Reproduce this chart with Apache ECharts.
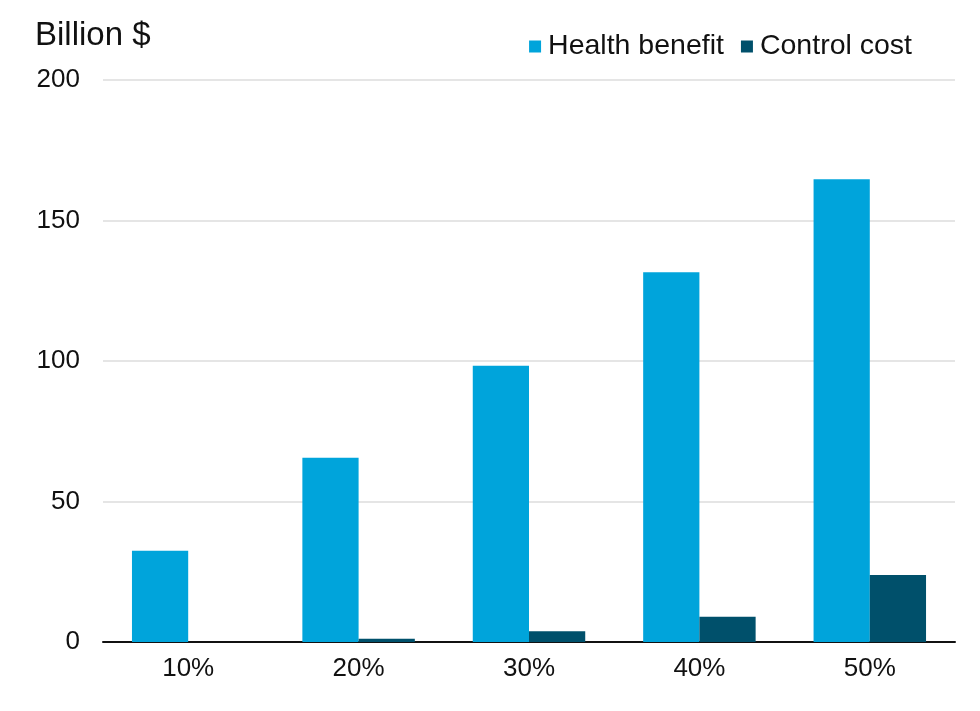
<!DOCTYPE html>
<html>
<head>
<meta charset="utf-8">
<script src="https://cdn.jsdelivr.net/npm/echarts@6/dist/echarts.min.js"></script>
<style>
html,body{margin:0;padding:0;background:#fff;}
#c{width:980px;height:711px;}
</style>
</head>
<body>
<div id="c"></div>
<script>
const categories = ['10%', '20%', '30%', '40%', '50%'];
const healthBenefit = [32.5, 65.6, 98.3, 131.6, 164.7];
const controlCost = [0, 1.2, 3.8, 9.0, 23.8];
const yTicks = [0, 50, 100, 150, 200];

const font = 'Liberation Sans, Arial, Helvetica, sans-serif';
const chart = echarts.init(document.getElementById('c'));
chart.setOption({
  backgroundColor: '#fff',
  animation: false,
  title: {
    text: 'Billion $',
    left: 30,
    top: 14,
    textStyle: { fontFamily: font, fontSize: 33, fontWeight: 'normal', color: '#111' }
  },
  legend: {
    right: 63,
    top: 27,
    itemWidth: 12,
    itemHeight: 12,
    itemGap: 17,
    icon: 'rect',
    textStyle: { fontFamily: font, fontSize: 28.5, color: '#111', padding: [0, 0, 0, 2] },
    data: ['Health benefit', 'Control cost']
  },
  grid: { left: 103, right: 25, top: 80, bottom: 69, containLabel: false },
  xAxis: {
    type: 'category',
    data: categories,
    axisLine: { show: true, lineStyle: { color: '#111', width: 2 } },
    axisTick: { show: false },
    axisLabel: { fontFamily: font, fontSize: 26, color: '#111', margin: 14 }
  },
  yAxis: {
    type: 'value',
    min: yTicks[0],
    max: yTicks[yTicks.length - 1],
    interval: 50,
    axisLine: { show: false },
    axisTick: { show: false },
    axisLabel: { fontFamily: font, fontSize: 26, color: '#111', margin: 23 },
    splitLine: { show: true, lineStyle: { color: '#dddddd', width: 1.5 } }
  },
  series: [
    {
      name: 'Health benefit',
      type: 'bar',
      data: healthBenefit,
      itemStyle: { color: '#00a4db' },
      barGap: '0%',
      barCategoryGap: '34%'
    },
    {
      name: 'Control cost',
      type: 'bar',
      data: controlCost,
      itemStyle: { color: '#00506b' },
      barGap: '0%',
      barCategoryGap: '34%'
    }
  ]
});
</script>
</body>
</html>
